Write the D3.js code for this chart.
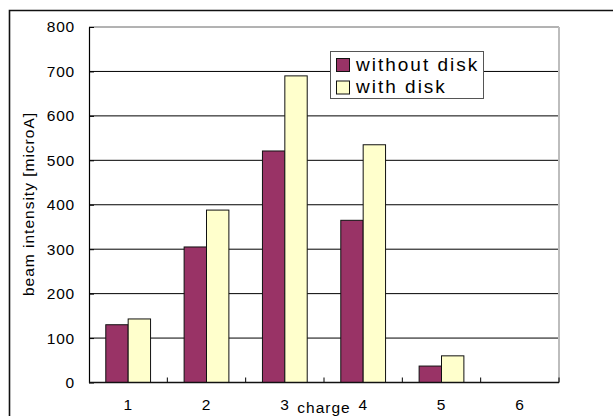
<!DOCTYPE html>
<html>
<head>
<meta charset="utf-8">
<script src="https://cdn.jsdelivr.net/npm/d3@7"></script>
<style>
  html, body { margin: 0; padding: 0; background: #fff; }
  svg { display: block; font-family: "Liberation Sans", Arial, sans-serif; }
</style>
</head>
<body>
<svg id="chart" width="613" height="416"></svg>
<script>
// Beam intensity per charge state, with and without the disk
const categories = ["1", "2", "3", "4", "5", "6"];
const seriesNames = ["without disk", "with disk"];
const withoutDisk = [130, 305, 521, 365, 37, null];
const withDisk = [143, 388, 690, 535, 60, null];
const yTicks = [0, 100, 200, 300, 400, 500, 600, 700, 800];
const seriesColors = ["#993366", "#FFFFCC"];

const svg = d3.select("#chart");
const plot = { left: 89, right: 559, top: 27, bottom: 382.5 };

// outer chart frame (runs off the right and bottom edges)
svg.append("path")
  .attr("d", `M9.5,430 V10.5 H630`)
  .attr("fill", "none")
  .attr("stroke", "#111")
  .attr("stroke-width", 1.6);

const x = d3.scaleBand().domain(categories).range([plot.left, plot.right]).paddingInner(0).paddingOuter(0);
const xs = d3.scaleBand().domain(seriesNames).range([0, x.step()]).paddingInner(0).paddingOuter(0.75);
const y = d3.scaleLinear().domain([0, 800]).range([plot.bottom, plot.top]);

// horizontal gridlines
svg.append("g").selectAll("line")
  .data(yTicks.filter(v => v > 0))
  .join("line")
  .attr("x1", plot.left).attr("x2", plot.right)
  .attr("y1", d => y(d)).attr("y2", d => y(d))
  .attr("stroke", d => d === 800 ? "#666" : "#000")
  .attr("stroke-width", 1);

// right border of the plot area
svg.append("line")
  .attr("x1", plot.right).attr("x2", plot.right)
  .attr("y1", plot.top).attr("y2", plot.bottom)
  .attr("stroke", "#bdbdbd").attr("stroke-width", 2);

// bars
const rows = categories.map((c, i) => ({ c, vals: [withoutDisk[i], withDisk[i]] }));
const groups = svg.append("g").selectAll("g")
  .data(rows).join("g")
  .attr("transform", d => `translate(${x(d.c)},0)`);
groups.selectAll("rect")
  .data(d => d.vals.map((v, j) => ({ v, s: seriesNames[j], j })).filter(e => e.v != null))
  .join("rect")
  .attr("x", e => xs(e.s))
  .attr("width", xs.bandwidth())
  .attr("y", e => y(e.v))
  .attr("height", e => y(0) - y(e.v))
  .attr("fill", e => seriesColors[e.j])
  .attr("stroke", "#111")
  .attr("stroke-width", 1);

// y axis: inside ticks, labels to the left
const yAxis = d3.axisLeft(y).tickValues(yTicks).tickSizeInner(-5).tickSizeOuter(0).tickPadding(14);
const gy = svg.append("g").attr("transform", `translate(${plot.left},0)`).call(yAxis);
gy.select(".domain").attr("stroke", "#000").attr("stroke-width", 1.2);
gy.selectAll(".tick line").attr("stroke", "#000");
gy.selectAll("text")
  .attr("font-size", 15.5)
  .attr("letter-spacing", "0.8px")
  .attr("fill", "#000")
  .attr("font-family", "Liberation Sans, Arial, sans-serif");

// x axis: labels at category centres, tick marks at category boundaries
const xAxis = d3.axisBottom(x).tickSize(0).tickPadding(0);
const gx = svg.append("g").attr("transform", `translate(0,${plot.bottom})`).call(xAxis);
gx.select(".domain").remove();
gx.selectAll("text")
  .attr("y", 27.5).attr("dy", 0)
  .attr("font-size", 15.5)
  .attr("letter-spacing", "0.8px")
  .attr("fill", "#000")
  .attr("font-family", "Liberation Sans, Arial, sans-serif");

const bounds = categories.slice(1).map(c => x(c)).concat([plot.right]);
svg.append("g").selectAll("line")
  .data(bounds).join("line")
  .attr("x1", d => d).attr("x2", d => d)
  .attr("y1", plot.bottom).attr("y2", plot.bottom - 5)
  .attr("stroke", "#000");

svg.append("line")
  .attr("x1", plot.left).attr("x2", plot.right)
  .attr("y1", plot.bottom).attr("y2", plot.bottom)
  .attr("stroke", "#111").attr("stroke-width", 1.6);

// axis titles
svg.append("text")
  .attr("x", (plot.left + plot.right) / 2)
  .attr("y", 412.5)
  .attr("text-anchor", "middle")
  .attr("font-size", 15.5)
  .attr("letter-spacing", "1px")
  .text("charge");

svg.append("text")
  .attr("transform", `translate(34,204) rotate(-90)`)
  .attr("text-anchor", "middle")
  .attr("font-size", 15.5)
  .attr("letter-spacing", "1px")
  .text("beam intensity [microA]");

// legend
const legend = svg.append("g");
legend.append("rect")
  .attr("x", 330.5).attr("y", 51.5)
  .attr("width", 153).attr("height", 47)
  .attr("fill", "#fff").attr("stroke", "#555").attr("stroke-width", 1);
const items = legend.selectAll("g.item")
  .data(seriesNames).join("g")
  .attr("class", "item")
  .attr("transform", (d, i) => `translate(0,${i * 22.5})`);
items.append("rect")
  .attr("x", 336.5).attr("y", 58.5)
  .attr("width", 13).attr("height", 13)
  .attr("fill", (d, i) => seriesColors[i])
  .attr("stroke", "#111");
items.append("text")
  .attr("x", 356).attr("y", 70.5)
  .attr("font-size", 19)
  .attr("letter-spacing", "2px")
  .text(d => d);
</script>
</body>
</html>
